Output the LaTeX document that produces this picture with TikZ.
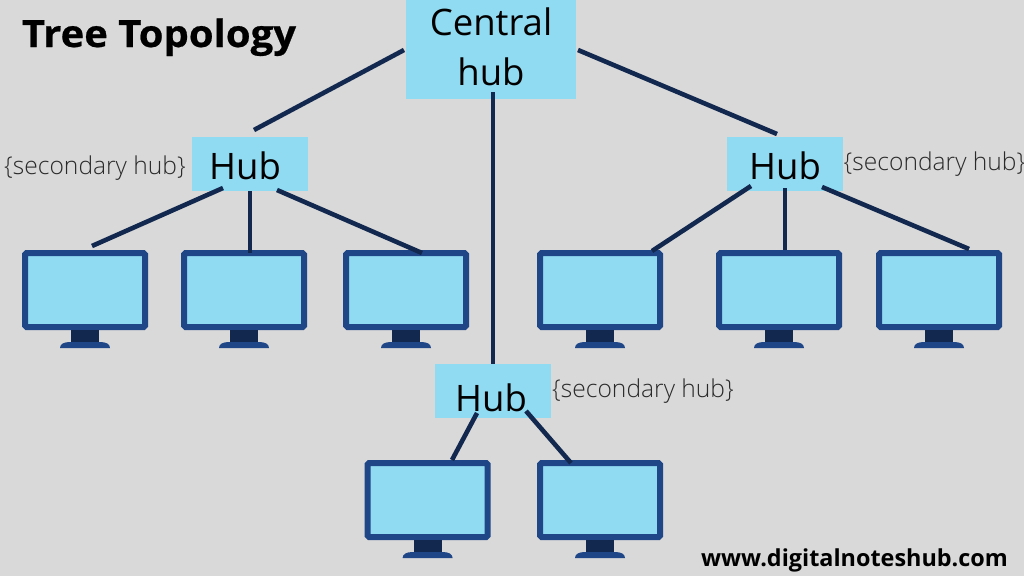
\documentclass[tikz,border=0pt]{standalone}
\usepackage{fontspec}
\setmainfont{Open Sans}
\newfontfamily\lightfont{Open Sans}[UprightFont=* Light]
\newfontfamily\heavyfont{Open Sans}[UprightFont=* Bold,FakeStretch=1.065,FakeBold=0.6]
\definecolor{bgc}{HTML}{D9D9D9}
\definecolor{skyc}{HTML}{90DBF2}
\definecolor{framec}{HTML}{1F4788}
\definecolor{navyc}{HTML}{12284F}
\definecolor{notec}{HTML}{2A2A2A}
\tikzset{
  hubbox/.style={fill=skyc,draw=none,inner sep=0pt,outer sep=0pt,text=black,font=\fontsize{36.5}{50}\selectfont},
  screenbox/.style={fill=skyc,draw=framec,line width=6pt,rounded corners=1.5pt,inner sep=0pt,outer sep=0pt,minimum width=120pt,minimum height=74pt,anchor=north west},
  link/.style={draw=navyc,line width=4.6pt},
  notetext/.style={text=notec,font=\lightfont\fontsize{24.6}{27}\selectfont,inner sep=0pt,anchor=center},
  titletext/.style={text=black,font=\heavyfont\fontsize{37.6}{44}\selectfont,inner sep=0pt},
  urltext/.style={text=black,font=\bfseries\fontsize{23.4}{26}\selectfont,inner sep=0pt}
}
\newcommand{\monitor}[3]{%
  \node[screenbox] (#1) at (#2+3,#3+3) {};
  \fill[navyc] ([shift={(46,77)}]#1.north west) rectangle ([shift={(74,89)}]#1.north west);
  \fill[framec] ([shift={(35,95)}]#1.north west) .. controls ([shift={(35,91)}]#1.north west) and ([shift={(39,89)}]#1.north west) .. ([shift={(45,89)}]#1.north west) -- ([shift={(75,89)}]#1.north west) .. controls ([shift={(81,89)}]#1.north west) and ([shift={(85,91)}]#1.north west) .. ([shift={(85,95)}]#1.north west) -- cycle;
}
\newcommand{\lnk}[6]{\draw[link] ([shift={(#2,#3)}]#1.north west) -- ([shift={(#5,#6)}]#4.north west);}
\begin{document}
\begin{tikzpicture}[x=1pt,y=-1pt]
\useasboundingbox (0,0) rectangle (1024,576);
\fill[bgc] (0,0) rectangle (1024,576);
\node[titletext,anchor=base] (title) at (159,47) {Tree Topology};
\node[urltext,anchor=center] (url) at (854.5,560) {www.digitalnoteshub.com};

\monitor{m1}{22}{250}
\monitor{m2}{181}{250}
\monitor{m3}{343}{250}
\monitor{m4}{537}{250}
\monitor{m5}{716}{250}
\monitor{m6}{876}{250}
\monitor{m7}{364.6}{460}
\monitor{m8}{537}{460}

\node[hubbox,align=center,minimum width=170pt,minimum height=105pt] (central) at (491,46.5) {Central\\hub};
\node[hubbox,minimum width=116pt,minimum height=54pt] (hubl) at (250,164) {\kern-10pt\raisebox{-1.5pt}[\height][0pt]{Hub}};
\node[hubbox,minimum width=116pt,minimum height=54pt] (hubr) at (785,164) {\raisebox{-1.5pt}[\height][0pt]{Hub}};
\node[hubbox,minimum width=116pt,minimum height=54pt] (hubb) at (493,391) {\kern-4pt\raisebox{-7pt}[\height][0pt]{Hub}};
\node[notetext] (n1) at (95,168) {\{secondary hub\}};
\node[notetext] (n2) at (934.5,164) {\{secondary hub\}};
\node[notetext] (n3) at (643,391) {\{secondary hub\}};

\lnk{central}{-2}{56}{hubl}{62}{-7}
\lnk{central}{87}{98}{hubb}{58}{0}
\lnk{central}{172}{56}{hubr}{50}{-3}
\lnk{hubl}{31}{51}{m1}{67}{-7}
\lnk{hubl}{58}{54}{m2}{66}{0}
\lnk{hubl}{85}{53}{m3}{76}{0}
\lnk{hubr}{24}{49}{m4}{112}{-2}
\lnk{hubr}{58}{51}{m5}{66}{-3}
\lnk{hubr}{95}{50}{m6}{90}{-4}
\lnk{hubb}{42}{49}{m7}{84.4}{-3}
\lnk{hubb}{91}{47}{m8}{31}{0}
\end{tikzpicture}
\end{document}
